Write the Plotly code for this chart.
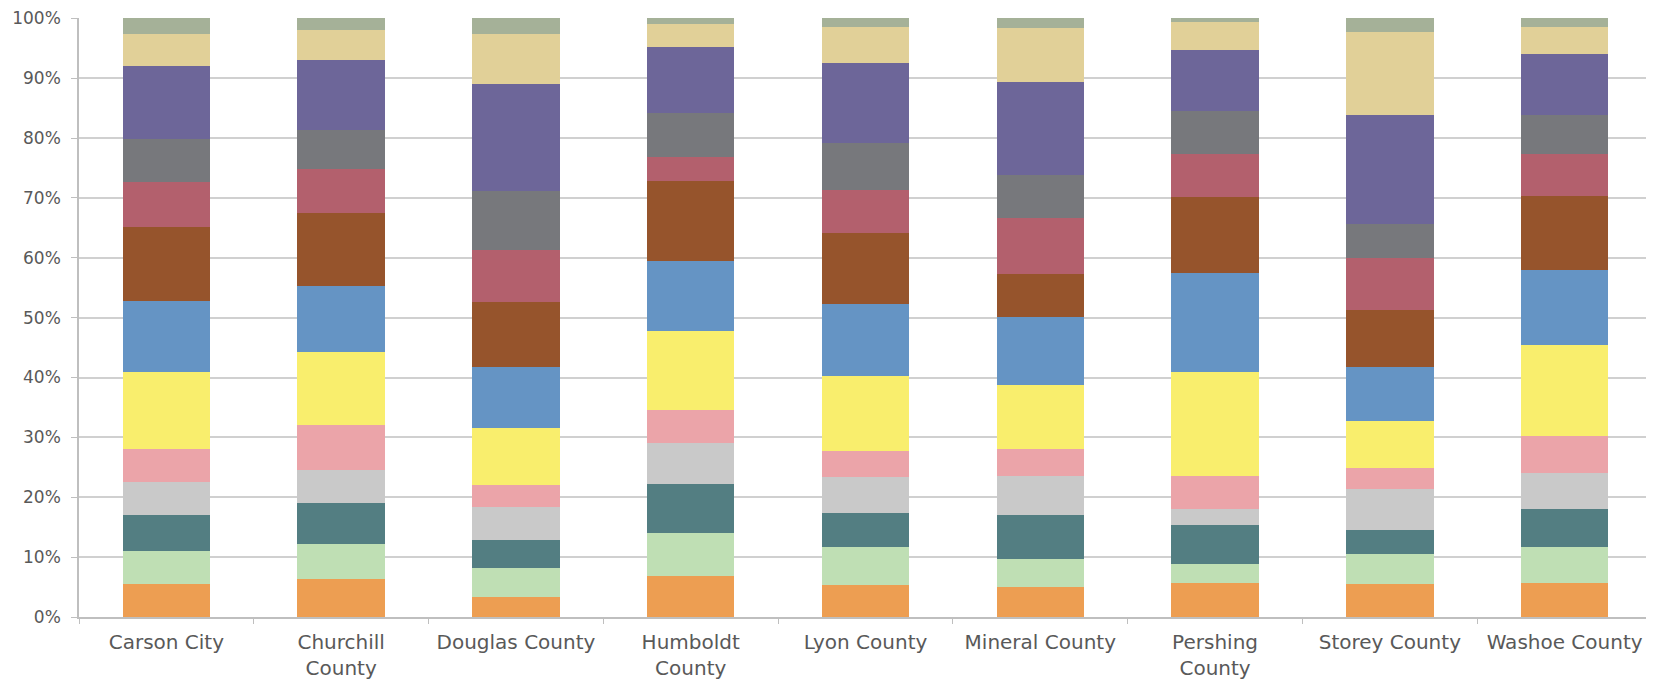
import plotly.graph_objects as go

counties = ["Carson City", "Churchill<br>County", "Douglas County", "Humboldt<br>County",
            "Lyon County", "Mineral County", "Pershing<br>County", "Storey County", "Washoe County"]

# shares (%) per segment, bottom to top
s01_orange = [5.5, 6.4, 3.4, 6.9, 5.4, 5.0, 5.6, 5.5, 5.7]
s02_lgreen = [5.6, 5.8, 4.8, 7.1, 6.3, 4.7, 3.2, 5.1, 6.0]
s03_teal = [5.9, 6.8, 4.6, 8.2, 5.7, 7.3, 6.6, 4.0, 6.4]
s04_lgray = [5.5, 5.5, 5.6, 6.8, 6.0, 6.6, 2.7, 6.8, 5.9]
s05_pink = [5.5, 7.5, 3.7, 5.5, 4.4, 4.4, 5.4, 3.5, 6.3]
s06_yellow = [12.9, 12.2, 9.5, 13.2, 12.4, 10.7, 17.4, 7.8, 15.1]
s07_blue = [11.9, 11.1, 10.1, 11.7, 12.1, 11.4, 16.5, 9.1, 12.6]
s08_brown = [12.3, 12.1, 10.9, 13.5, 11.9, 7.2, 12.7, 9.4, 12.4]
s09_rose = [7.6, 7.5, 8.7, 3.9, 7.2, 9.4, 7.2, 8.7, 6.9]
s10_gray = [7.1, 6.4, 9.8, 7.3, 7.8, 7.1, 7.3, 5.7, 6.5]
s11_purple = [12.2, 11.8, 17.9, 11.1, 13.4, 15.6, 10.1, 18.2, 10.3]
s12_tan = [5.4, 5.0, 8.4, 3.8, 5.9, 9.0, 4.6, 13.9, 4.4]
s13_sage = [2.6, 1.9, 2.6, 1.0, 1.5, 1.6, 0.7, 2.3, 1.5]

series = [
    ("Series 1", s01_orange, "#ED9E52"),
    ("Series 2", s02_lgreen, "#BFDFB4"),
    ("Series 3", s03_teal, "#537E82"),
    ("Series 4", s04_lgray, "#C9C9C9"),
    ("Series 5", s05_pink, "#EBA4A9"),
    ("Series 6", s06_yellow, "#F9EE6D"),
    ("Series 7", s07_blue, "#6594C4"),
    ("Series 8", s08_brown, "#96542C"),
    ("Series 9", s09_rose, "#B3606D"),
    ("Series 10", s10_gray, "#77787C"),
    ("Series 11", s11_purple, "#6D6699"),
    ("Series 12", s12_tan, "#E1D098"),
    ("Series 13", s13_sage, "#A5B198"),
]

fig = go.Figure()
for name, vals, col in series:
    fig.add_trace(go.Bar(x=counties, y=vals, name=name, marker_color=col,
                         marker_line_width=0))

fig.update_layout(
    barmode="stack",
    barnorm="percent",
    bargap=0.5,
    showlegend=False,
    width=1654, height=687,
    margin=dict(l=71, r=10, t=10, b=78),
    plot_bgcolor="white", paper_bgcolor="white",
    font=dict(family="DejaVu Sans", size=17, color="#595959"),
)
fig.update_yaxes(range=[0, 100.05], dtick=10, ticksuffix="%", showgrid=True,
                 gridcolor="#D0D0D0", gridwidth=1.5, showline=True, linecolor="#BFBFBF",
                 linewidth=1.5, ticks="outside", ticklen=6, tickcolor="#BFBFBF",
                 zeroline=False, tickfont=dict(size=17), ticklabelstandoff=7,
                 ticklabeloverflow="allow", automargin=False)
fig.update_xaxes(showline=True, linecolor="#BFBFBF", linewidth=1.5,
                 ticks="outside", tickson="boundaries", ticklen=5, tickcolor="#BFBFBF",
                 tickfont=dict(size=20), ticklabelstandoff=6, automargin=False)

fig.write_html("out.html")
